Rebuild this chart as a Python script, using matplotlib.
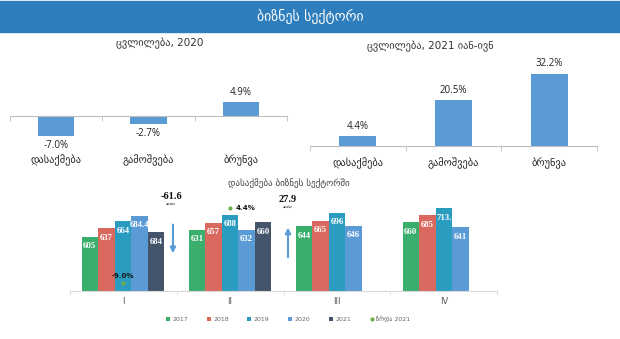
import numpy as np
import matplotlib.pyplot as plt
from matplotlib.patches import Rectangle

plt.rcParams['font.family'] = ['DejaVu Sans']

# top charts
cats = ["დასაქმება", "გამოშვება", "ბრუნვა"]
change_2020 = [-7.0, -2.7, 4.9]
change_2021 = [4.4, 20.5, 32.2]

# bottom chart
quarters = ["I", "II", "III", "IV"]
years = ["2017", "2018", "2019", "2020", "2021"]
emp = {
    "2017": [605, 631, 644, 660],
    "2018": [637, 657, 665, 685],
    "2019": [664, 688, 696, 713],
    "2020": [684.4, 632, 646, 641],
    "2021": [622.8, 660, np.nan, np.nan],
}
emp_labels = {
    "2017": ["605", "631", "644", "660"],
    "2018": ["637", "657", "665", "685"],
    "2019": ["664", "688", "696", "713."],
    "2020": ["684.4", "632", "646", "641"],
    "2021": ["684", "660", "", ""],
}
growth_2021 = [-9.0, 4.4]
diff_2021 = ["-61.6", "27.9"]

colors = {"2017": "#3AAE6C", "2018": "#D9695F", "2019": "#2A9CC0",
          "2020": "#5B9BD5", "2021": "#44546A"}
bar_blue = "#5B9BD5"
num_font = ['Open Sans', 'DejaVu Sans']

fig = plt.figure(figsize=(6.2, 3.39), dpi=100)
fig.patch.set_facecolor("white")

# header band
fig.patches.append(Rectangle((0, 1 - 32 / 339), 1, 31 / 339, transform=fig.transFigure,
                             color="#2E7EBE", zorder=0))
fig.text(0.5, 1 - 16 / 339, "ბიზნეს სექტორი", color="white", fontsize=10,
         ha="center", va="center")


def top_chart(ax, vals, ylim, pad, title, tx, ty):
    x = np.arange(len(cats))
    ax.bar(x, vals, width=0.39, color=bar_blue)
    ax.set_xlim(-0.5, 2.5)
    ax.set_ylim(*ylim)
    for s in ["top", "left", "right"]:
        ax.spines[s].set_visible(False)
    ax.spines["bottom"].set_position(("data", 0))
    ax.spines["bottom"].set_color("#BFBFBF")
    ax.set_yticks([])
    ax.set_xticks(x)
    ax.set_xticklabels(cats, fontsize=7.5, color="#222222")
    ax.tick_params(axis="x", which="major", length=0, pad=pad)
    ax.set_xticks([-0.5, 0.5, 1.5, 2.5], minor=True)
    ax.tick_params(axis="x", which="minor", length=3.5, color="#BFBFBF")
    for xi, v in zip(x, vals):
        off = 3 if v >= 0 else -3
        ax.annotate(f"{v:.1f}%", (xi, v), xytext=(0, off), textcoords="offset points",
                    ha="center", va="bottom" if v >= 0 else "top",
                    fontsize=7, color="#222222", family=num_font)
    fig.text(tx, ty, title, fontsize=7.5, color="#333333", ha="center", va="center")


ax1 = fig.add_axes([10 / 620, 1 - 140 / 339, 277 / 620, 70 / 339])
top_chart(ax1, change_2020, (-8.4, 16.1), 28, "ცვლილება, 2020", 160 / 620, 1 - 43 / 339)

ax2 = fig.add_axes([310 / 620, 1 - 146 / 339, 287 / 620, 86 / 339])
top_chart(ax2, change_2021, (0, 38.2), 8, "ცვლილება, 2021 იან-ივნ", 430 / 620, 1 - 46 / 339)

# bottom chart
ax3 = fig.add_axes([69.5 / 620, 1 - 291 / 339, 428 / 620, 106 / 339])
w = 0.155
xq = np.arange(len(quarters))
for i, y in enumerate(years):
    xs = xq + (i - 2) * w
    vals = np.array(emp[y], dtype=float)
    ax3.bar(xs, vals - 400, width=w, bottom=400, color=colors[y], label=y)
    for xv, v, lab in zip(xs, vals, emp_labels[y]):
        if np.isnan(v):
            continue
        ax3.annotate(lab, (xv, v), xytext=(0, -4), textcoords="offset points",
                     ha="center", va="top", fontsize=6.3, color="white",
                     fontweight="bold", family="Liberation Serif")
ax3.set_xlim(-0.5, 3.5)
ax3.set_ylim(400, 800)
for s in ["top", "left", "right"]:
    ax3.spines[s].set_visible(False)
ax3.spines["bottom"].set_color("#D9D9D9")
ax3.set_yticks([])
ax3.set_xticks(xq)
ax3.set_xticklabels(quarters, fontsize=6, color="#555555")
ax3.tick_params(axis="x", which="major", length=0, pad=4)
ax3.set_xticks([-0.5, 0.5, 1.5, 2.5, 3.5], minor=True)
ax3.tick_params(axis="x", which="minor", length=3, color="#D9D9D9")
fig.text(289 / 620, 1 - 183 / 339, "დასაქმება ბიზნეს სექტორში", fontsize=6.5,
         color="#444444", ha="center", va="center")

# change arrows
ax3.annotate("", xy=(0.467, 532), xytext=(0.467, 661),
             arrowprops=dict(arrowstyle="-|>", color=bar_blue, lw=1.5, mutation_scale=8))
ax3.annotate("", xy=(1.542, 650), xytext=(1.542, 517),
             arrowprops=dict(arrowstyle="-|>", color=bar_blue, lw=1.5, mutation_scale=8))
for xv, yv, t in [(0.45, 755, diff_2021[0]), (1.542, 744, diff_2021[1])]:
    ax3.text(xv, yv, t, fontsize=7.5, fontweight="bold", family="Liberation Serif",
             ha="center", va="center", color="#111111")
    ax3.text(xv, yv - 30, "ათასი", fontsize=2.5, ha="center", va="center", color="#111111")

# growth 2021 on secondary axis
ax4 = ax3.twinx()
ax4.set_ylim(-10.4, 8.5)
ax4.axis("off")
ax4.scatter(xq[:2], growth_2021, s=4, color="#70AD47", label="ზრდა 2021", zorder=5)
ax4.annotate(f"{growth_2021[0]:.1f}%", (xq[0], growth_2021[0]), xytext=(0, 3),
             textcoords="offset points", ha="center", va="bottom", fontsize=5,
             fontweight="bold", color="#111111")
ax4.annotate(f"{growth_2021[1]:.1f}%", (xq[1], growth_2021[1]), xytext=(4, 0),
             textcoords="offset points", ha="left", va="center", fontsize=5,
             fontweight="bold", color="#111111")

h1, l1 = ax3.get_legend_handles_labels()
h2, l2 = ax4.get_legend_handles_labels()
fig.legend(h1 + h2, l1 + l2, loc="center", bbox_to_anchor=(288 / 620, 1 - 319 / 339),
           ncol=6, frameon=False, fontsize=4.5, labelcolor="#666666",
           handlelength=0.6, handleheight=0.6, handletextpad=0.4, columnspacing=3.0,
           markerscale=1.0)

fig.savefig("out.png", dpi=100)
